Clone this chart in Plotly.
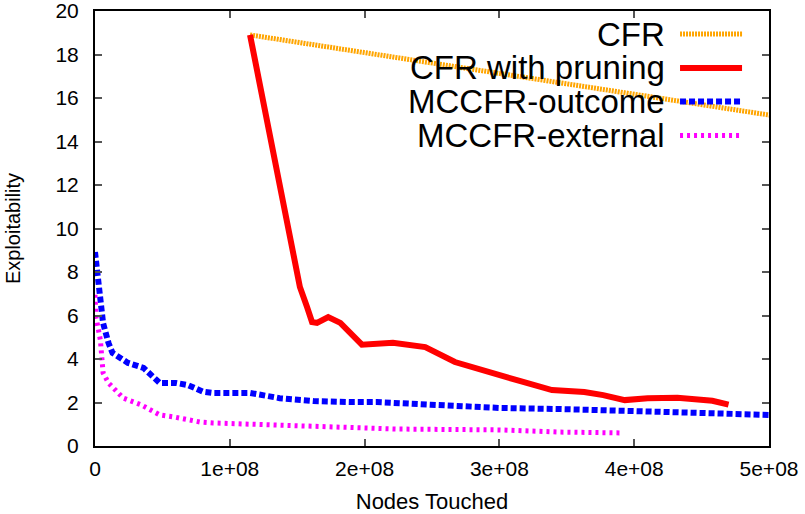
import plotly.graph_objects as go

# ---- data ----
cfr_x = [1.15e8, 5.75e8]
cfr_y = [18.9, 14.5]

prune_x = [1.15e8, 1.276e8, 1.395e8, 1.52e8, 1.573e8, 1.61e8, 1.647e8, 1.73e8, 1.82e8,
           1.98e8, 2.21e8, 2.45e8, 2.67e8, 3.0e8, 3.15e8, 3.39e8, 3.63e8, 3.77e8,
           3.93e8, 4.10e8, 4.32e8, 4.58e8, 4.70e8]
prune_y = [18.9, 14.99, 10.99, 7.31, 6.39, 5.70, 5.66, 5.93, 5.66,
           4.66, 4.75, 4.55, 3.86, 3.31, 2.99, 2.57, 2.48, 2.34,
           2.11, 2.2, 2.22, 2.08, 1.9]

out_x = [0, 0.015e8, 0.04e8, 0.06e8, 0.1e8, 0.13e8, 0.245e8, 0.36e8, 0.48e8, 0.6e8,
         0.69e8, 0.8e8, 0.875e8, 1.15e8, 1.37e8, 1.62e8, 1.91e8, 2.09e8, 2.49e8,
         3.0e8, 3.45e8, 4.19e8, 4.69e8, 5.0e8]
out_y = [8.92, 7.95, 6.85, 5.65, 4.74, 4.28, 3.82, 3.59, 2.9, 2.9,
         2.8, 2.5, 2.44, 2.44, 2.2, 2.07, 2.02, 2.02, 1.9,
         1.75, 1.7, 1.56, 1.52, 1.43]

ext_x = [0, 0.007e8, 0.04e8, 0.06e8, 0.1e8, 0.21e8, 0.34e8, 0.48e8, 0.59e8, 0.78e8,
         0.875e8, 1.37e8, 1.74e8, 2.24e8, 3.0e8, 3.45e8, 3.92e8]
ext_y = [6.95, 5.93, 4.87, 3.36, 2.9, 2.2, 1.9, 1.43, 1.33, 1.1,
         1.06, 0.97, 0.87, 0.78, 0.74, 0.64, 0.6]

x_tickvals = [0, 1e8, 2e8, 3e8, 4e8, 5e8]
x_ticktext = ["0", "1e+08", "2e+08", "3e+08", "4e+08", "5e+08"]
y_tickvals = [0, 2, 4, 6, 8, 10, 12, 14, 16, 18, 20]

names = ["CFR", "CFR with pruning", "MCCFR-outcome", "MCCFR-external"]
colors = ["#FFA500", "#FF0000", "#0000FF", "#FF00FF"]
widths = [5, 6, 6, 5]
dashes = ["2px,1px", "solid", "6px,3px", "3px,4px"]

FONT = "Arial"

fig = go.Figure()
series = [(cfr_x, cfr_y), (prune_x, prune_y), (out_x, out_y), (ext_x, ext_y)]
for (xs, ys), n, c, w, d in zip(series, names, colors, widths, dashes):
    fig.add_trace(go.Scatter(x=xs, y=ys, mode="lines", name=n, showlegend=False,
                             line=dict(color=c, width=w, dash=d)))

# manual gnuplot-style legend: text right-aligned, sample to the right
leg_y = [0.947, 0.869, 0.792, 0.714]
for n, c, w, d, ly in zip(names, colors, widths, dashes, leg_y):
    fig.add_annotation(x=0.849, y=ly, xref="paper", yref="paper", text=n,
                       showarrow=False, xanchor="right", yanchor="middle",
                       font=dict(family=FONT, size=33, color="black"))
    fig.add_shape(type="line", xref="paper", yref="paper", x0=0.868, x1=0.960,
                  y0=ly, y1=ly, line=dict(color=c, width=w, dash=d))

fig.update_layout(
    width=805, height=514,
    margin=dict(l=95, r=36, t=11, b=68),
    plot_bgcolor="white", paper_bgcolor="white",
    font=dict(family=FONT, size=21, color="black"),
    xaxis=dict(range=[0, 5e8], tickvals=x_tickvals, ticktext=x_ticktext,
               ticks="inside", ticklen=7, tickwidth=1.5, tickcolor="#555",
               showline=True, linecolor="black", linewidth=2, mirror="ticks",
               showgrid=False, zeroline=False, ticklabelstandoff=3, automargin=False,
               ticklabeloverflow="allow",
               title=dict(text="Nodes Touched", font=dict(size=22), standoff=14)),
    yaxis=dict(range=[0, 20], tickvals=y_tickvals,
               ticks="inside", ticklen=7, tickwidth=1.5, tickcolor="#555",
               showline=True, linecolor="black", linewidth=2, mirror="ticks",
               showgrid=False, zeroline=False, ticklabelstandoff=10, automargin=False,
               ticklabeloverflow="allow",
               title=dict(text="Exploitability", font=dict(size=20), standoff=29)),
)

fig.write_html("out.html")
